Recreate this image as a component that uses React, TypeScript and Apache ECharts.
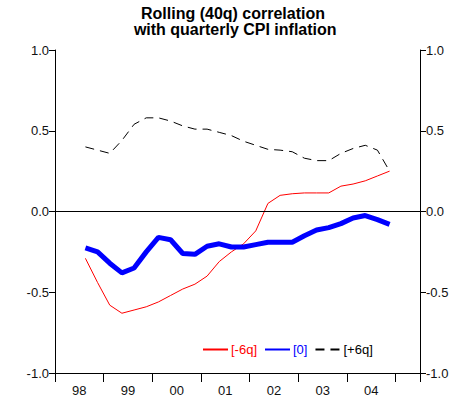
import React, { useEffect, useRef } from "react";
import * as echarts from "echarts";

const quarters = [
  "1998Q3", "1998Q4", "1999Q1", "1999Q2", "1999Q3", "1999Q4",
  "2000Q1", "2000Q2", "2000Q3", "2000Q4", "2001Q1", "2001Q2",
  "2001Q3", "2001Q4", "2002Q1", "2002Q2", "2002Q3", "2002Q4",
  "2003Q1", "2003Q2", "2003Q3", "2003Q4", "2004Q1", "2004Q2",
  "2004Q3", "2004Q4",
];

const lagMinus6 = [
  -0.29, -0.44, -0.58, -0.63, -0.61, -0.59, -0.56, -0.52, -0.48, -0.45,
  -0.4, -0.31, -0.25, -0.2, -0.12, 0.05, 0.1, 0.11, 0.115, 0.115,
  0.115, 0.157, 0.17, 0.19, 0.22, 0.25,
];

const lag0 = [
  -0.225, -0.25, -0.32, -0.38, -0.35, -0.25, -0.16, -0.175, -0.26, -0.265,
  -0.215, -0.2, -0.22, -0.22, -0.205, -0.19, -0.19, -0.19, -0.15, -0.115,
  -0.1, -0.075, -0.04, -0.025, -0.05, -0.08,
];

const lagPlus6 = [
  0.4, 0.38, 0.36, 0.44, 0.54, 0.58, 0.58, 0.56, 0.53, 0.51,
  0.51, 0.49, 0.47, 0.435, 0.41, 0.385, 0.38, 0.37, 0.33, 0.315,
  0.315, 0.36, 0.39, 0.41, 0.38, 0.25,
];

const yearLabels = ["98", "99", "00", "01", "02", "03", "04"];
const seriesNames = ["[-6q]", "[0]", "[+6q]"];

const FONT = "Liberation Sans, Arial, sans-serif";

function qx(q: string): number {
  const y = parseInt(q.slice(0, 4), 10);
  const n = parseInt(q.slice(5), 10);
  return (y - 1998) * 4 + (n - 1) + 0.5;
}

function pairs(vals: number[]): [number, number][] {
  return vals.map((v, i) => [qx(quarters[i]), v]);
}

export default function App() {
  const ref = useRef<HTMLDivElement>(null);
  useEffect(() => {
    if (!ref.current) return;
    const chart = echarts.init(ref.current, null, { renderer: "svg" });
    const yAxisBase = {
      type: "value" as const,
      min: -1,
      max: 1,
      interval: 0.5,
      splitLine: { show: false },
      axisLine: { show: true, onZero: false, lineStyle: { color: "#000", width: 1 } },
      axisTick: { show: true, length: 6, lineStyle: { color: "#000" } },
      axisLabel: {
        color: "#111",
        fontFamily: FONT,
        fontSize: 13,
        margin: 6,
        formatter: (v: number) => v.toFixed(1),
      },
    };
    chart.setOption({
      animation: false,
      backgroundColor: "#fff",
      title: {
        text: "Rolling (40q) correlation\n with quarterly CPI inflation",
        left: 233,
        top: 5,
        padding: 0,
        textAlign: "center",
        textStyle: {
          fontFamily: FONT,
          fontSize: 16,
          fontWeight: "bold",
          color: "#000",
          lineHeight: 16,
        },
      },
      grid: { left: 55, right: 39, top: 50, bottom: 27, containLabel: false },
      legend: {
        left: 202,
        top: 343,
        padding: 0,
        itemWidth: 25,
        itemHeight: 10,
        itemGap: 7,
        itemStyle: { opacity: 0 },
        data: [
          { name: seriesNames[0], textStyle: { color: "#ff0000" } },
          { name: seriesNames[1], textStyle: { color: "#0000ff" } },
          { name: seriesNames[2], textStyle: { color: "#000" } },
        ],
        textStyle: { fontFamily: FONT, fontSize: 13, padding: [0, 0, 0, -2] },
      },
      xAxis: [
        {
          type: "value",
          min: 0,
          max: 30,
          interval: 4,
          position: "bottom",
          splitLine: { show: false },
          axisLine: { show: true, onZero: false, lineStyle: { color: "#000", width: 1 } },
          axisTick: { show: true, length: 9, lineStyle: { color: "#000" } },
          axisLabel: { show: false },
        },
        {
          type: "value",
          min: 0,
          max: 30,
          interval: 2,
          position: "bottom",
          splitLine: { show: false },
          axisLine: { show: false, onZero: false },
          axisTick: { show: false },
          axisLabel: {
            color: "#111",
            fontFamily: FONT,
            fontSize: 13,
            margin: 11,
            formatter: (v: number) => {
              if (v % 4 !== 2) return "";
              const k = (v - 2) / 4;
              return yearLabels[k] ?? "";
            },
          },
        },
      ],
      yAxis: [
        { ...yAxisBase, position: "left" },
        { ...yAxisBase, position: "right" },
      ],
      series: [
        {
          name: seriesNames[0],
          type: "line",
          data: pairs(lagMinus6),
          symbol: "none",
          lineStyle: { color: "#ff0000", width: 1 },
          itemStyle: { color: "#ff0000" },
          markLine: {
            silent: true,
            symbol: "none",
            label: { show: false },
            lineStyle: { color: "#000", width: 1, type: "solid" },
            data: [{ yAxis: 0 }],
          },
        },
        {
          name: seriesNames[1],
          type: "line",
          data: pairs(lag0),
          symbol: "none",
          lineStyle: { color: "#0000ff", width: 5 },
          itemStyle: { color: "#0000ff" },
        },
        {
          name: seriesNames[2],
          type: "line",
          data: pairs(lagPlus6),
          symbol: "none",
          lineStyle: { color: "#000", width: 1, type: [9, 6] },
          itemStyle: { color: "#000" },
        },
      ],
    });
    return () => chart.dispose();
  }, []);
  return (
    <div
      ref={ref}
      style={{ position: "absolute", left: 0, top: 0, width: 459, height: 400 }}
    />
  );
}
